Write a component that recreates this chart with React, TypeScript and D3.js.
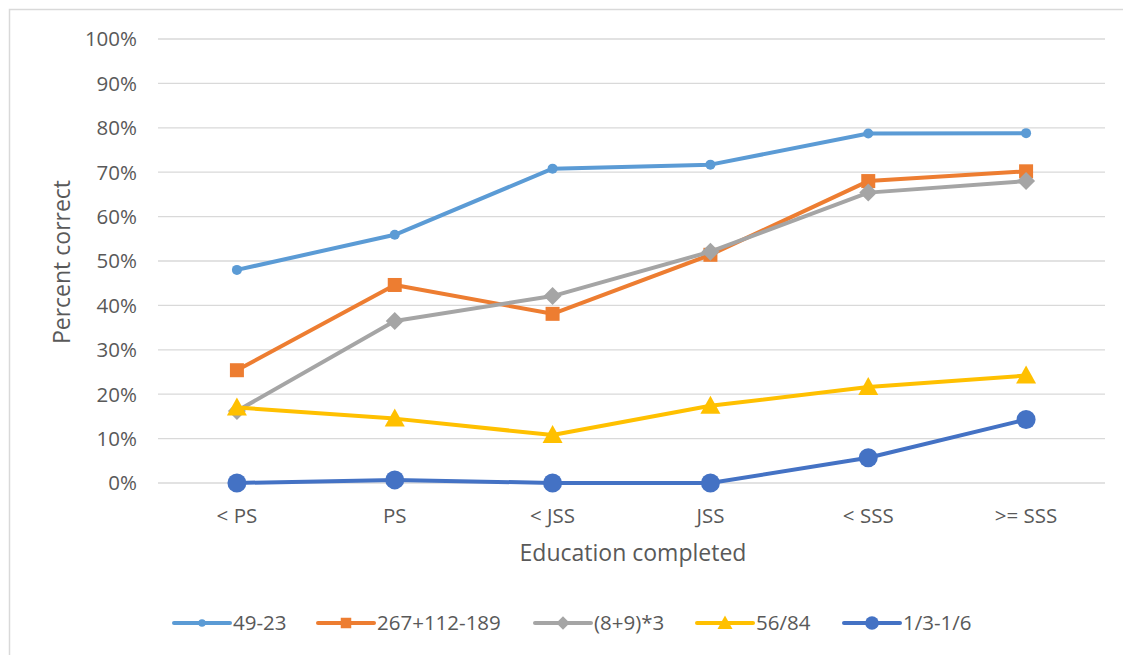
import React from "react";
import * as d3 from "d3";

const categories = ["< PS", "PS", "< JSS", "JSS", "< SSS", ">= SSS"];
const yTicks = [0, 10, 20, 30, 40, 50, 60, 70, 80, 90, 100];

const s4923 = [48, 55.9, 70.8, 71.7, 78.7, 78.8];
const s267 = [25.4, 44.6, 38.1, 51.4, 68.0, 70.2];
const s89 = [16.2, 36.5, 42.1, 52.1, 65.4, 68.0];
const s5684 = [17.0, 14.5, 10.8, 17.4, 21.6, 24.2];
const s1316 = [0, 0.7, 0, 0, 5.7, 14.3];

const seriesNames = ["49-23", "267+112-189", "(8+9)*3", "56/84", "1/3-1/6"];
const seriesValues = [s4923, s267, s89, s5684, s1316];
const seriesColors = ["#5B9BD5", "#ED7D31", "#A5A5A5", "#FFC000", "#4472C4"];
const seriesMarkers = ["smallCircle", "square", "diamond", "triangle", "bigCircle"];

const W = 1123;
const H = 655;
const FONT = "'Open Sans', sans-serif";
const TEXT = "#595959";

function Marker({ kind, x, y, color, s = 1 }: { kind: string; x: number; y: number; color: string; s?: number }) {
  if (kind === "smallCircle") return <circle cx={x} cy={y} r={5 * s} fill={color} />;
  if (kind === "bigCircle") return <circle cx={x} cy={y} r={9.5 * s} fill={color} />;
  if (kind === "square")
    return <rect x={x - 7 * s} y={y - 7 * s} width={14 * s} height={14 * s} fill={color} />;
  if (kind === "diamond")
    return (
      <path
        d={`M${x},${y - 9 * s}L${x + 9 * s},${y}L${x},${y + 9 * s}L${x - 9 * s},${y}Z`}
        fill={color}
      />
    );
  return (
    <path d={`M${x},${y - 10 * s}L${x + 10 * s},${y + 8 * s}L${x - 10 * s},${y + 8 * s}Z`} fill={color} />
  );
}

export default function App() {
  const x = d3.scaleBand().domain(categories).range([158, 1105]);
  const y = d3.scaleLinear().domain([0, 100]).range([483, 39]);
  const cx = (i: number) => (x(categories[i]) as number) + x.bandwidth() / 2;
  const line = d3
    .line<number>()
    .x((_, i) => cx(i))
    .y((d) => y(d));

  const legendLineX = [174, 318, 535, 697, 844];

  return (
    <svg width={W} height={H} style={{ position: "absolute", left: 0, top: 0 }}>
      <rect x={0} y={0} width={W} height={H} fill="#fff" />
      <rect x={9.5} y={9.5} width={W + 10} height={H + 10} fill="none" stroke="#d9d9d9" strokeWidth={1.5} />
      {yTicks.map((t) => (
        <g key={t}>
          <line x1={158} x2={1105} y1={y(t)} y2={y(t)} stroke="#d9d9d9" strokeWidth={1.3} />
          <text x={137} y={y(t)} dy="0.36em" textAnchor="end" fontFamily={FONT} fontSize={20.5} fill={TEXT}>
            {t}%
          </text>
        </g>
      ))}
      {categories.map((c, i) => (
        <text key={c} x={cx(i)} y={516} dy="0.36em" textAnchor="middle" fontFamily={FONT} fontSize={20.5} fill={TEXT}>
          {c}
        </text>
      ))}
      <text
        transform={`translate(62,262) rotate(-90)`}
        textAnchor="middle"
        dy="0.36em"
        fontFamily={FONT}
        fontSize={23}
        fill={TEXT}
      >
        Percent correct
      </text>
      <text x={633} y={553} dy="0.36em" textAnchor="middle" fontFamily={FONT} fontSize={23} fill={TEXT}>
        Education completed
      </text>
      {seriesValues.map((vals, si) => (
        <g key={si}>
          <path d={line(vals) || ""} fill="none" stroke={seriesColors[si]} strokeWidth={4} strokeLinejoin="round" />
          {vals.map((v, i) => (
            <Marker key={i} kind={seriesMarkers[si]} x={cx(i)} y={y(v)} color={seriesColors[si]} />
          ))}
        </g>
      ))}
      {seriesNames.map((n, si) => {
        const lx = legendLineX[si];
        return (
          <g key={n}>
            <line x1={lx} x2={lx + 56} y1={623} y2={623} stroke={seriesColors[si]} strokeWidth={4} strokeLinecap="round" />
            <Marker kind={seriesMarkers[si]} x={lx + 28} y={623} color={seriesColors[si]} s={si === 4 ? 0.72 : 0.75} />
            <text x={lx + 59} y={623} dy="0.36em" fontFamily={FONT} fontSize={20.5} fill={TEXT}>
              {n}
            </text>
          </g>
        );
      })}
    </svg>
  );
}
